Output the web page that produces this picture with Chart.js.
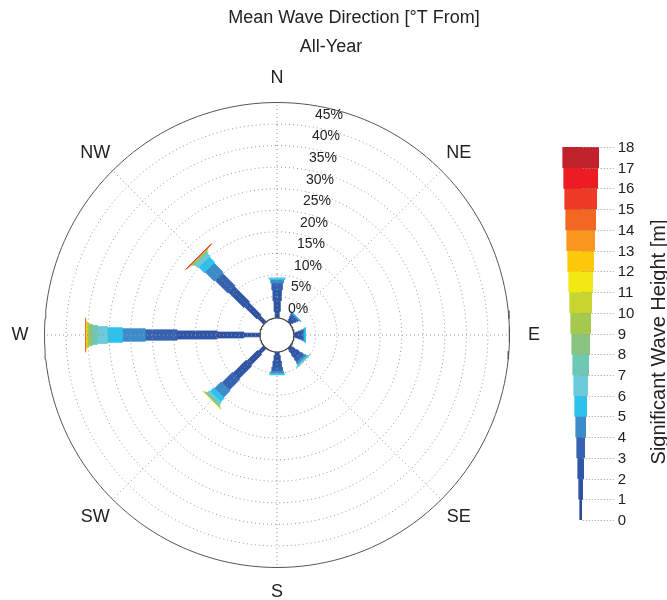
<!DOCTYPE html>
<html>
<head>
<meta charset="utf-8">
<script src="https://cdn.jsdelivr.net/npm/chart.js@4.4.1/dist/chart.umd.min.js"></script>
<style>
  body { margin: 0; background: #fff; }
  #wrap { position: relative; width: 667px; height: 600px; }
  #rose { position: absolute; left: 0; top: 0; }
  #scaleBar { position: absolute; left: 540px; top: 130px; }
</style>
</head>
<body>
<div id="wrap">
  <canvas id="rose" width="667" height="600"></canvas>
  <canvas id="scaleBar" width="127" height="410"></canvas>
</div>
<script>
const titleLines = ["Mean Wave Direction [\u00B0T From]", "All-Year"];
const directions = ["N", "NE", "E", "SE", "S", "SW", "W", "NW"];
const directionAngles = [0, 45, 90, 135, 180, 225, 270, 315];
const ringValues = [5, 10, 15, 20, 25, 30, 35, 40, 45];
const ringLabels = [0, 5, 10, 15, 20, 25, 30, 35, 40, 45];
const outerValue = 50;
const heightTicks = [0, 1, 2, 3, 4, 5, 6, 7, 8, 9, 10, 11, 12, 13, 14, 15, 16, 17, 18];
const heightBins = ["0-1", "1-2", "2-3", "3-4", "4-5", "5-6", "6-7", "7-8", "8-9",
  "9-10", "10-11", "11-12", "12-13", "13-14", "14-15", "15-16", "16-17", "17-18"];
const binColors = ["#2b4c9b", "#2d51a3", "#3056a8", "#3563b1", "#3c8bca", "#2dc1ee",
  "#6ccadb", "#6ec8b3", "#88c47f", "#a5c94d", "#c8d52f", "#f1e814",
  "#fdc70c", "#f8961e", "#f26823", "#ee3a25", "#ec1c24", "#c0232c"];

// frequency [%] per height bin, one list per direction
const freqN  = [1.5, 2.5, 2.5, 1.6, 0.8, 0.3, 0.1, 0, 0, 0, 0, 0, 0, 0, 0, 0, 0, 0];
const freqNE = [0.4, 0.6, 0.6, 0.4, 0.2, 0.08, 0, 0, 0, 0, 0, 0, 0, 0, 0, 0, 0, 0];
const freqE  = [0.4, 0.6, 0.7, 0.5, 0.3, 0.12, 0, 0, 0, 0, 0, 0, 0, 0, 0, 0, 0, 0];
const freqSE = [0.6, 1.1, 1.2, 0.9, 0.5, 0.25, 0.1, 0.03, 0, 0, 0, 0, 0, 0, 0, 0, 0, 0];
const freqS  = [0.8, 1.3, 1.4, 1.0, 0.55, 0.25, 0, 0, 0, 0, 0, 0, 0, 0, 0, 0, 0, 0];
const freqSW = [1.8, 3.5, 4.2, 3.4, 2.2, 1.2, 0.6, 0.3, 0.12, 0.05, 0.03, 0, 0, 0, 0, 0, 0, 0];
const freqW  = [3.8, 6.2, 9.3, 7.4, 5.3, 3.5, 2.3, 1.2, 0.7, 0.4, 0.2, 0.1, 0.05, 0.03, 0.02, 0, 0, 0];
const freqNW = [2.0, 4.0, 5.0, 4.2, 3.0, 1.8, 0.9, 0.4, 0.2, 0.1, 0.06, 0.04, 0.03, 0.02, 0.02, 0.01, 0, 0];
const freqByDirection = [freqN, freqNE, freqE, freqSE, freqS, freqSW, freqW, freqNW];

const FONT = '"Liberation Sans", Arial, sans-serif';
const PX = 4.31;          // pixels per percent
const CX = 277, CY = 335; // rose centre on the page
const HOLE = 17 / PX;     // radius of the empty centre, in percent units

function polar(r, deg) {
  const a = deg * Math.PI / 180;
  return { x: r * Math.sin(a), y: r * Math.cos(a) };
}

function circle(r) {
  const pts = [];
  for (let d = 0; d <= 360; d += 2) pts.push(polar(r, d));
  return pts;
}

function segment(deg, r0, r1, h) {
  const a = deg * Math.PI / 180;
  const ux = Math.sin(a), uy = Math.cos(a);
  const px = Math.cos(a), py = -Math.sin(a);
  return [
    { x: r0 * ux - h * px, y: r0 * uy - h * py },
    { x: r1 * ux - h * px, y: r1 * uy - h * py },
    { x: r1 * ux + h * px, y: r1 * uy + h * py },
    { x: r0 * ux + h * px, y: r0 * uy + h * py },
    { x: r0 * ux - h * px, y: r0 * uy - h * py },
  ];
}

function barHalfWidth(bin) {
  return (2.2 * (bin + 1) + 1.5) / 2 / PX;
}

function lineSet(data, extra) {
  return Object.assign({
    data, showLine: true, pointRadius: 0, fill: false, borderWidth: 1, tension: 0,
  }, extra);
}

const datasets = [];

// stacked wave-height segments
freqByDirection.forEach((freqs, d) => {
  let r = HOLE;
  freqs.forEach((f, i) => {
    if (f <= 0) return;
    datasets.push(lineSet(segment(directionAngles[d], r, r + f, barHalfWidth(i)), {
      backgroundColor: binColors[i], borderColor: binColors[i], borderWidth: 0.8,
      fill: "shape", order: 2 + (17 - i),
    }));
    r += f;
  });
});

// dotted rings and spokes drawn over the bars
ringValues.forEach((v) => {
  datasets.push(lineSet(circle(HOLE + v), { borderColor: "#999", borderDash: [1, 3], order: 1 }));
});
directionAngles.forEach((deg) => {
  datasets.push(lineSet([polar(HOLE, deg), polar(HOLE + outerValue, deg)],
    { borderColor: "#999", borderDash: [1, 3], order: 1 }));
});
datasets.push(lineSet(circle(HOLE + outerValue), { borderColor: "#555", borderWidth: 1, order: 1 }));
datasets.push(lineSet(circle(HOLE), {
  borderColor: "#444", borderWidth: 1.2, backgroundColor: "#fff", fill: "shape", order: 0,
}));

const roseText = {
  id: "roseText",
  afterDraw(chart) {
    const { ctx } = chart;
    const x = chart.scales.x, y = chart.scales.y;
    const cx = x.getPixelForValue(0), cy = y.getPixelForValue(0);
    ctx.save();
    ctx.fillStyle = "#222";
    ctx.font = "18px " + FONT;
    ctx.textAlign = "center";
    ctx.textBaseline = "alphabetic";
    ctx.fillText(titleLines[0], 354, 23);
    ctx.fillText(titleLines[1], 331, 52);
    ctx.textBaseline = "middle";
    directions.forEach((name, i) => {
      const p = polar(HOLE + outerValue + 5.7, directionAngles[i]);
      ctx.fillText(name, x.getPixelForValue(p.x), y.getPixelForValue(p.y));
    });
    ctx.font = "14px " + FONT;
    ctx.textAlign = "left";
    ringLabels.forEach((v) => {
      const r = cy - y.getPixelForValue(HOLE + v);
      ctx.fillText(v + "%", cx + 8.6 + 0.139 * r, cy - r - 9);
    });
    ctx.restore();
  },
};

new Chart(document.getElementById("rose"), {
  type: "scatter",
  data: { datasets },
  options: {
    responsive: false,
    devicePixelRatio: 1,
    animation: false,
    events: [],
    layout: { padding: 0 },
    plugins: { legend: { display: false }, tooltip: { enabled: false } },
    scales: {
      x: { display: false, min: -CX / PX, max: (667 - CX) / PX },
      y: { display: false, min: -(600 - CY) / PX, max: CY / PX },
    },
  },
  plugins: [roseText],
});

// colour scale: one horizontal floating bar per height bin
const scaleText = {
  id: "scaleText",
  afterDraw(chart) {
    const { ctx } = chart;
    const y = chart.scales.y;
    const x = chart.scales.x;
    const x0 = x.getPixelForValue(0);
    const slot = Math.abs(y.getPixelForValue(0) - y.getPixelForValue(1));
    ctx.save();
    ctx.strokeStyle = "#999";
    ctx.lineWidth = 1;
    ctx.setLineDash([1, 2]);
    ctx.fillStyle = "#222";
    ctx.font = "15px " + FONT;
    ctx.textAlign = "left";
    ctx.textBaseline = "middle";
    heightTicks.forEach((t) => {
      const edge = t < heightBins.length ? y.getPixelForValue(t) + slot / 2
        : y.getPixelForValue(t - 1) - slot / 2;
      const py = Math.round(edge) + 0.5;
      ctx.beginPath();
      ctx.moveTo(x0 + 2, py);
      ctx.lineTo(x0 + 34, py);
      ctx.stroke();
      ctx.fillText(String(t), x0 + 37, py);
    });
    ctx.translate(125, 212);
    ctx.rotate(-Math.PI / 2);
    ctx.textAlign = "center";
    ctx.textBaseline = "alphabetic";
    ctx.font = "20px " + FONT;
    ctx.fillText("Significant Wave Height [m]", 0, 0);
    ctx.restore();
  },
};

new Chart(document.getElementById("scaleBar"), {
  type: "bar",
  data: {
    labels: heightBins,
    datasets: [{
      data: heightBins.map((_, i) => [-(i + 1), i + 1]),
      backgroundColor: binColors,
      barPercentage: 1,
      categoryPercentage: 1,
    }],
  },
  options: {
    indexAxis: "y",
    responsive: false,
    devicePixelRatio: 1,
    animation: false,
    events: [],
    layout: { padding: { top: 17, bottom: 20, left: 0, right: 0 } },
    plugins: { legend: { display: false }, tooltip: { enabled: false } },
    scales: {
      x: { display: false, min: -40.7, max: 86.3 },
      y: { display: false, reverse: true },
    },
  },
  plugins: [scaleText],
});
</script>
</body>
</html>
